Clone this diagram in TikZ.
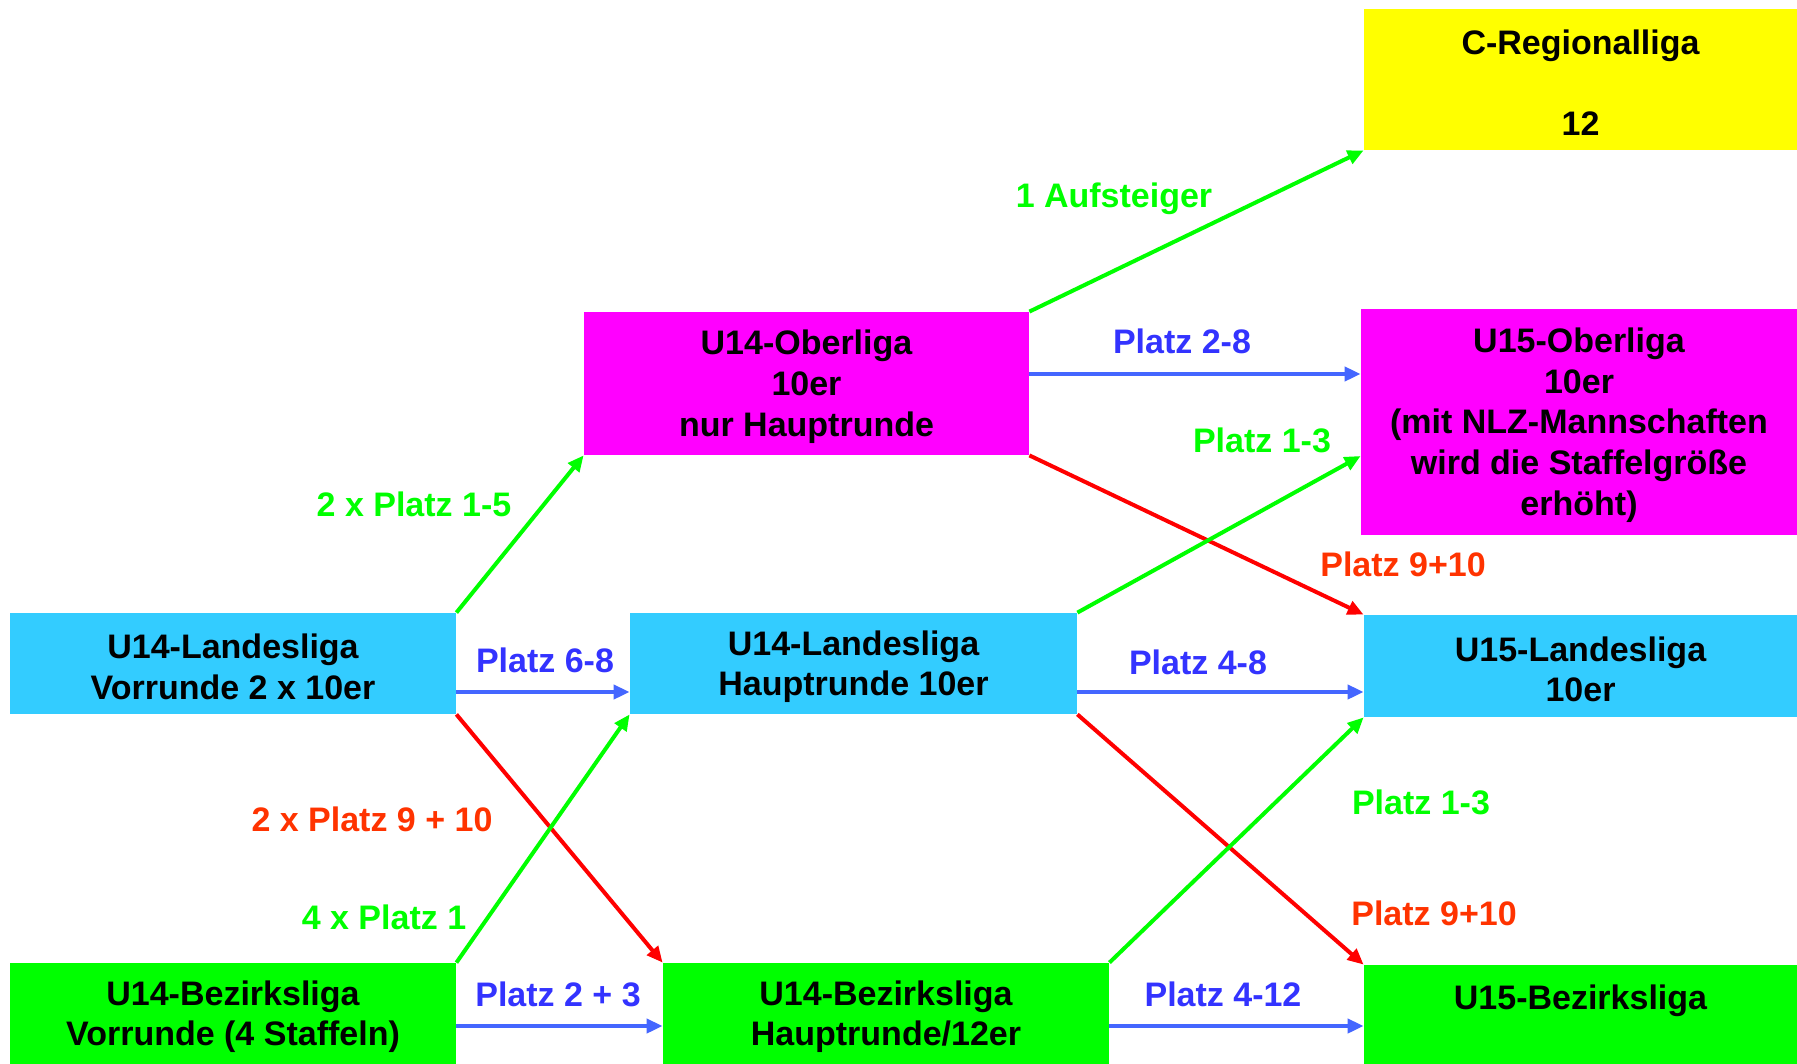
\documentclass[tikz,border=0pt]{standalone}
\usepackage{fontspec}
\setmainfont{Liberation Sans}
\usetikzlibrary{arrows.meta}
\definecolor{lcyan}{HTML}{33CCFF}
\definecolor{lmagenta}{HTML}{FF00FF}
\definecolor{lgreen}{HTML}{00FF00}
\definecolor{lyellow}{HTML}{FFFF00}
\definecolor{upgreen}{HTML}{00FF00}
\definecolor{stayblue}{HTML}{4466FF}
\definecolor{stayblue text}{HTML}{3333FF}
\definecolor{downred}{HTML}{FF0000}
\definecolor{downred text}{HTML}{FF3300}
\newcommand\lowtop{\rule{0pt}{15.5pt}}
\begin{document}
\begin{tikzpicture} [x=.5pt,y=-.5pt,
    league/.style={rectangle,inner sep=0pt,align=center,font=\bfseries\fontsize{17}{20.3}\selectfont},
    tag/.style={inner sep=0pt,font=\bfseries\fontsize{17}{20.3}\selectfont},
    up/.style={color=upgreen,line width=2pt,-{Triangle[length=8pt,width=7pt]}},
    stay/.style={color=stayblue,line width=2pt,-{Triangle[length=8pt,width=7pt]}},
    down/.style={color=downred,line width=2pt,-{Triangle[length=8pt,width=7pt]}}]
\useasboundingbox (0,0) rectangle (1797,1064);
%leagues
        \node[league,fill=lyellow,minimum width=216.5pt,minimum height=70.5pt] (creg) at (1580.5,79.5) {\lowtop C-Regionalliga\\~\\12};
        \node[league,fill=lmagenta,minimum width=222.5pt,minimum height=71.5pt] (ober) at (806.5,383.5) {\lowtop U14-Oberliga\\10er\\nur Hauptrunde};
        \node[league,fill=lmagenta,minimum width=218pt,minimum height=113pt] (uober) at (1579,422) {\lowtop U15-Oberliga\\10er\\(mit NLZ-Mannschaften\\wird die Staffelgröße\\erhöht)};
        \node[league,fill=lcyan,minimum width=223pt,minimum height=50.5pt] (llvor) at (233,663.5) {\lowtop U14-Landesliga\\Vorrunde 2 x 10er};
        \node[league,fill=lcyan,minimum width=223.5pt,minimum height=50.5pt] (llhaupt) at (853.5,663.5) {\lowtop U14-Landesliga\\Hauptrunde 10er};
        \node[league,fill=lcyan,minimum width=216.5pt,minimum height=51pt] (ull) at (1580.5,666) {\lowtop U15-Landesliga\\10er};
        \node[league,fill=lgreen,minimum width=223pt,minimum height=50.5pt] (blvor) at (233,1013.5) {\lowtop U14-Bezirksliga\\Vorrunde (4 Staffeln)};
        \node[league,fill=lgreen,minimum width=223pt,minimum height=50.5pt] (blhaupt) at (886,1013.5) {\lowtop U14-Bezirksliga\\Hauptrunde/12er};
        \node[league,fill=lgreen,minimum width=216.5pt,minimum height=49.5pt] (ubl) at (1580.5,1014.5) {\lowtop U15-Bezirksliga\\~};
%moves
        \draw [ up ] (ober.north east) -- (creg.south west);
        \draw [ stay ] ([yshift=4.75pt]ober.east) -- ([yshift=4.75pt]ober.east -| uober.west);
        \draw [ down ] (ober.south east) -- (ull.north west);
        \draw [ up ] (llhaupt.north east) -- ([yshift=-17pt]uober.west);
        \draw [ up ] (llvor.north east) -- (ober.south west);
        \draw [ stay ] ([yshift=-14.25pt]llvor.east) -- ([yshift=-14.25pt]llvor.east -| llhaupt.west);
        \draw [ down ] (llvor.south east) -- (blhaupt.north west);
        \draw [ up ] (blvor.north east) -- (llhaupt.south west);
        \draw [ stay ] ([yshift=-6.25pt]blvor.east) -- ([yshift=-6.25pt]blvor.east -| blhaupt.west);
        \draw [ stay ] ([yshift=-14.25pt]llhaupt.east) -- ([yshift=-14.25pt]llhaupt.east -| ull.west);
        \draw [ down ] (llhaupt.south east) -- (ubl.north west);
        \draw [ up ] (blhaupt.north east) -- (ull.south west);
        \draw [ stay ] ([yshift=-6.25pt]blhaupt.east) -- ([yshift=-6.25pt]blhaupt.east -| ubl.west);
%labels
        \node[tag,text=upgreen] (t1) at (1114,199) {1 Aufsteiger};
        \node[tag,text=stayblue text] (t2) at (1182,341) {Platz 2-8};
        \node[tag,text=downred text] (t3) at (1403,564) {Platz 9+10};
        \node[tag,text=upgreen] (t4) at (1262,440) {Platz 1-3};
        \node[tag,text=upgreen] (t5) at (414,504) {2 x Platz 1-5};
        \node[tag,text=stayblue text] (t6) at (545,660) {Platz 6-8};
        \node[tag,text=downred text] (t7) at (372,819) {2 x Platz 9 + 10};
        \node[tag,text=upgreen] (t8) at (384,917) {4 x Platz 1};
        \node[tag,text=stayblue text] (t9) at (558,994) {Platz 2 + 3};
        \node[tag,text=stayblue text] (t10) at (1198,662) {Platz 4-8};
        \node[tag,text=downred text] (t11) at (1434,913) {Platz 9+10};
        \node[tag,text=upgreen] (t12) at (1421,802) {Platz 1-3};
        \node[tag,text=stayblue text] (t13) at (1223,994) {Platz 4-12};
    \end{tikzpicture}
\end{document}
